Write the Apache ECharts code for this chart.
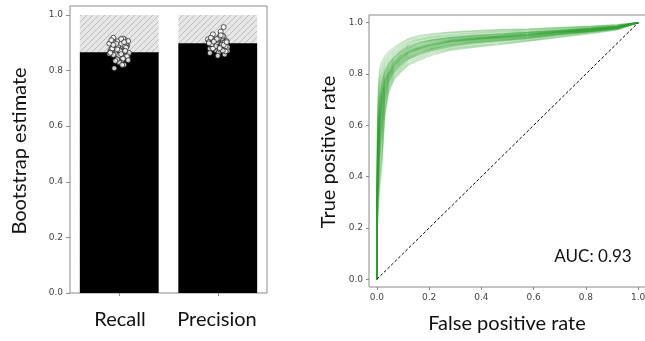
<!DOCTYPE html>
<html><head><meta charset="utf-8">
<script src="https://cdn.jsdelivr.net/npm/echarts@6/dist/echarts.min.js"></script>
<style>html,body{margin:0;padding:0;background:#fff;overflow:hidden}#c{width:645px;height:341px}</style>
</head><body><div id="c"></div>
<script>
const categories = ['Recall', 'Precision'];
const barValues = [0.866, 0.898];
const yTicks = [0, 0.2, 0.4, 0.6, 0.8, 1.0];
const recallJitter = [-0.08,0.05,-0.02,0.09,-0.06,0.01,0.07,-0.1,0.03,-0.04,0.06,-0.07,0.0,0.08,-0.03,0.04,-0.09,0.02,-0.05,0.1,-0.01,0.05,-0.08,0.07,-0.02,0.03,-0.06,0.09,0.0,-0.04,0.06,-0.1,0.02,0.08,-0.07,0.04,-0.03,0.01,-0.05,0.07,-0.09,0.05,0.0,-0.02,0.09,-0.06,0.03,0.06,-0.08,0.02];
const recallVals = [0.872,0.861,0.905,0.845,0.918,0.88,0.852,0.897,0.838,0.866,0.91,0.874,0.829,0.889,0.858,0.915,0.87,0.848,0.9,0.863,0.884,0.821,0.877,0.893,0.841,0.868,0.856,0.906,0.875,0.834,0.887,0.86,0.913,0.851,0.879,0.843,0.896,0.869,0.808,0.882,0.864,0.902,0.855,0.876,0.837,0.892,0.82,0.871,0.909,0.859];
const precJitter = [0.03,-0.07,0.06,-0.02,0.09,-0.1,0.01,0.05,-0.05,0.08,-0.03,0.04,-0.08,0.0,0.07,-0.06,0.02,-0.01,0.1,-0.09,0.03,0.06,-0.04,0.0,0.08,-0.07,0.05,-0.02,0.09,-0.05,0.01,0.04,-0.08,0.07,-0.03,0.02,0.06,-0.06,0.1,-0.01,0.05,-0.09,0.03,0.08,-0.04,0.0,0.06,-0.07,0.02,0.09];
const precVals = [0.905,0.889,0.921,0.874,0.897,0.912,0.866,0.9,0.93,0.883,0.894,0.915,0.878,0.908,0.858,0.886,0.92,0.899,0.871,0.903,0.94,0.891,0.882,0.911,0.869,0.896,0.925,0.887,0.906,0.879,0.917,0.893,0.863,0.901,0.909,0.876,0.956,0.895,0.885,0.913,0.872,0.898,0.927,0.888,0.904,0.853,0.892,0.918,0.881,0.902];
const rocFpr = [0, 0, 0.003, 0.007, 0.012, 0.02, 0.03, 0.045, 0.065, 0.09, 0.12, 0.16, 0.21, 0.28, 0.36, 0.46, 0.58, 0.7, 0.82, 0.92, 1];
const rocTpr = [
[0,.2,.4,.52,.62,.7,.76,.8,.835,.86,.885,.9,.915,.927,.935,.943,.951,.962,.972,.982,1],
[0,.26,.52,.63,.71,.77,.81,.84,.865,.888,.91,.922,.932,.942,.949,.955,.962,.97,.978,.987,1],
[0,.17,.32,.42,.51,.59,.70,.77,.81,.836,.862,.88,.897,.912,.921,.93,.941,.955,.966,.978,1],
[0,.21,.43,.55,.64,.72,.77,.81,.843,.867,.89,.905,.918,.93,.938,.946,.954,.964,.974,.983,1],
[0,.3,.61,.72,.78,.815,.845,.867,.888,.907,.925,.938,.948,.955,.96,.966,.971,.978,.984,.99,1],
[0,.14,.26,.35,.42,.5,.66,.745,.79,.818,.848,.866,.885,.9,.91,.92,.933,.949,.962,.975,1],
[0,.19,.38,.5,.59,.67,.745,.79,.83,.855,.878,.895,.91,.922,.932,.942,.95,.961,.971,.981,1],
[0,.23,.46,.58,.67,.73,.785,.82,.85,.873,.898,.912,.924,.934,.941,.948,.956,.966,.976,.985,1],
[0,.18,.36,.47,.56,.64,.73,.785,.822,.848,.872,.89,.905,.918,.928,.938,.947,.958,.969,.98,1],
[0,.24,.49,.6,.69,.75,.795,.83,.857,.88,.902,.918,.93,.939,.946,.952,.959,.968,.977,.986,1],
[0,.18,.34,.45,.54,.62,.72,.775,.816,.842,.867,.884,.9,.914,.924,.934,.944,.956,.968,.979,1],
[0,.28,.55,.66,.735,.785,.82,.848,.873,.894,.915,.93,.94,.948,.953,.958,.964,.972,.98,.988,1],
[0,.2,.41,.5,.63,.69,.765,.8,.835,.862,.883,.9,.913,.926,.936,.944,.953,.963,.973,.983,1],
[0,.15,.28,.38,.45,.53,.675,.75,.796,.824,.855,.872,.89,.905,.915,.925,.937,.952,.964,.976,1],
[0,.22,.43,.55,.645,.715,.772,.81,.843,.867,.89,.906,.919,.931,.939,.947,.955,.964,.974,.983,1],
[0,.32,.64,.745,.805,.832,.856,.876,.895,.914,.932,.945,.953,.96,.965,.97,.974,.98,.986,.992,1],
[0,.13,.22,.3,.37,.45,.63,.728,.777,.806,.835,.853,.873,.892,.903,.913,.928,.943,.957,.972,1],
[0,.19,.38,.5,.59,.67,.746,.792,.829,.854,.88,.897,.911,.924,.933,.941,.95,.96,.97,.981,1],
[0,.24,.47,.59,.675,.74,.789,.823,.853,.876,.9,.915,.927,.937,.944,.951,.958,.967,.976,.985,1],
[0,.18,.35,.46,.55,.63,.726,.781,.819,.846,.87,.887,.902,.916,.926,.936,.945,.957,.968,.979,1],
[0,.26,.52,.63,.71,.766,.808,.838,.865,.887,.908,.924,.935,.943,.95,.956,.962,.97,.979,.987,1],
[0,.165,.31,.41,.5,.58,.698,.765,.806,.834,.86,.878,.895,.91,.92,.93,.94,.954,.966,.977,1],
[0,.21,.41,.53,.63,.707,.765,.804,.838,.863,.887,.903,.916,.928,.937,.945,.953,.963,.973,.982,1],
[0,.29,.58,.69,.758,.8,.832,.857,.88,.9,.92,.934,.944,.951,.957,.962,.967,.975,.982,.989,1],
[0,.19,.37,.48,.575,.655,.738,.787,.825,.85,.875,.892,.907,.92,.93,.939,.948,.959,.97,.98,1],
[0,.22,.45,.565,.656,.727,.779,.815,.847,.871,.894,.91,.922,.933,.941,.949,.957,.966,.975,.984,1],
[0,.17,.33,.44,.525,.605,.712,.773,.813,.84,.865,.883,.898,.913,.923,.933,.943,.955,.967,.978,1],
[0,.25,.51,.62,.703,.761,.803,.834,.862,.884,.905,.92,.932,.941,.948,.954,.961,.969,.978,.986,1],
[0,.2,.39,.51,.61,.69,.754,.797,.832,.858,.882,.899,.913,.925,.934,.943,.951,.962,.972,.982,1],
[0,.16,.3,.4,.48,.56,.69,.76,.803,.83,.858,.875,.892,.907,.918,.928,.939,.953,.965,.977,1],
[0,.34,.67,.772,.827,.849,.868,.886,.903,.92,.937,.95,.957,.963,.968,.973,.976,.982,.987,.993,1],
[0,.14,.24,.33,.4,.48,.648,.736,.783,.812,.84,.86,.879,.896,.907,.917,.93,.946,.96,.974,1]
];
const diagonal = [[0, 0], [1, 1]];
const aucText = 'AUC: 0.93';

// hatch pattern
const pat = document.createElement('canvas');
pat.width = 6; pat.height = 6;
const g = pat.getContext('2d');
g.fillStyle = '#e6e6e6'; g.fillRect(0, 0, 6, 6);
g.strokeStyle = '#bdbdbd'; g.lineWidth = 1;
g.beginPath(); g.moveTo(0, 6); g.lineTo(6, 0); g.moveTo(-1, 1); g.lineTo(1, -1); g.moveTo(5, 7); g.lineTo(7, 5); g.stroke();

const tickFont = {fontFamily: 'DejaVu Sans', fontSize: 9, color: '#444'};
const titleFont = 'Lato';
const tickColor = '#8a8a8a';

const series = [
  {type: 'bar', xAxisIndex: 0, yAxisIndex: 0, data: categories.map(() => 1.0), barWidth: '80%', barGap: '-100%',
   itemStyle: {color: {image: pat, repeat: 'repeat'}}, silent: true, z: 1},
  {type: 'bar', xAxisIndex: 0, yAxisIndex: 0, data: barValues, barWidth: '80%', barGap: '-100%',
   itemStyle: {color: '#000'}, z: 2},
  {type: 'scatter', xAxisIndex: 1, yAxisIndex: 0, symbolSize: 5, z: 5,
   itemStyle: {color: '#fff', borderColor: '#000', borderWidth: 0.8},
   data: recallVals.map((v, i) => [0 + recallJitter[i], v]).concat(precVals.map((v, i) => [1 + precJitter[i], v]))}
];
rocTpr.forEach(t => {
  series.push({type: 'line', xAxisIndex: 2, yAxisIndex: 1, showSymbol: false, symbol: 'none', silent: true,
    data: rocFpr.map((f, i) => [f, t[i]]),
    lineStyle: {color: '#2ca02c', width: 1.2, opacity: 0.3}, z: 3});
});
series.push({type: 'line', xAxisIndex: 2, yAxisIndex: 1, symbol: 'none', data: diagonal,
  lineStyle: {color: '#000', width: 1, type: [3, 2]}, z: 4});

const chart = echarts.init(document.getElementById('c'), null, {renderer: 'canvas'});
chart.setOption({
  animation: false,
  grid: [
    {left: 70, top: 6, width: 197, height: 287, show: true, borderColor: tickColor, borderWidth: 1, containLabel: false, outerBoundsMode: 'none'},
    {left: 369, top: 15, width: 277, height: 272, show: true, borderColor: tickColor, borderWidth: 1, containLabel: false, outerBoundsMode: 'none'}
  ],
  xAxis: [
    {type: 'category', gridIndex: 0, data: categories, boundaryGap: true,
     axisLine: {show: false, onZero: false}, axisTick: {show: true, alignWithLabel: true, length: 3, lineStyle: {color: tickColor}},
     axisLabel: {show: false}},
    {type: 'value', gridIndex: 0, min: -0.5, max: 1.5, show: false},
    {type: 'value', gridIndex: 1, min: -0.03, max: 1.03, splitLine: {show: false},
     axisLine: {show: false, onZero: false},
     axisTick: {show: true, length: 3, lineStyle: {color: tickColor}, customValues: yTicks},
     axisLabel: Object.assign({customValues: yTicks, margin: 6, formatter: v => v.toFixed(1)}, tickFont)}
  ],
  yAxis: [
    {type: 'value', gridIndex: 0, min: 0, max: 1.032, splitLine: {show: false}, axisLine: {show: false, onZero: false},
     axisTick: {show: true, length: 4, lineStyle: {color: tickColor}, customValues: yTicks},
     axisLabel: Object.assign({customValues: yTicks, margin: 7, formatter: v => v.toFixed(1)}, tickFont)},
    {type: 'value', gridIndex: 1, min: -0.03, max: 1.03, splitLine: {show: false}, axisLine: {show: false, onZero: false},
     axisTick: {show: true, length: 3, lineStyle: {color: tickColor}, customValues: yTicks},
     axisLabel: Object.assign({customValues: yTicks, margin: 6, formatter: v => v.toFixed(1)}, tickFont)}
  ],
  series: series,
  graphic: [
    {type: 'text', x: 20, y: 151, rotation: Math.PI / 2, style: {text: 'Bootstrap estimate', font: '20px ' + titleFont, fill: '#111', align: 'center', verticalAlign: 'middle'}},
    {type: 'text', x: 329, y: 152, rotation: Math.PI / 2, style: {text: 'True positive rate', font: '20px ' + titleFont, fill: '#111', align: 'center', verticalAlign: 'middle'}},
    {type: 'text', x: 120, y: 320, style: {text: categories[0], font: '20px ' + titleFont, fill: '#111', align: 'center', verticalAlign: 'middle'}},
    {type: 'text', x: 217, y: 320, style: {text: categories[1], font: '20px ' + titleFont, fill: '#111', align: 'center', verticalAlign: 'middle'}},
    {type: 'text', x: 507, y: 324, style: {text: 'False positive rate', font: '20px ' + titleFont, fill: '#111', align: 'center', verticalAlign: 'middle'}},
    {type: 'text', x: 593, y: 257, style: {text: aucText, font: '17px ' + titleFont, fill: '#111', align: 'center', verticalAlign: 'middle'}}
  ]
});
</script></body></html>
